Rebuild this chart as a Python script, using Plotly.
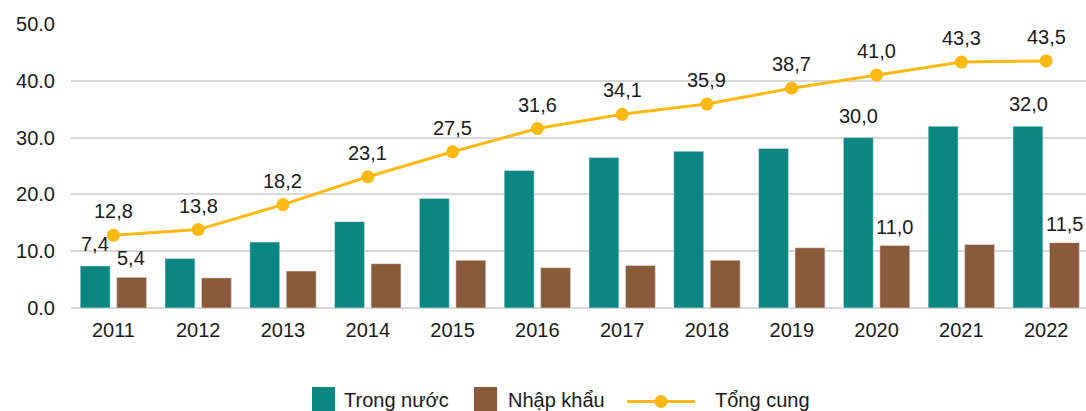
import plotly.graph_objects as go

years = ["2011", "2012", "2013", "2014", "2015", "2016", "2017", "2018", "2019", "2020", "2021", "2022"]
trong_nuoc = [7.4, 8.7, 11.6, 15.2, 19.3, 24.2, 26.5, 27.6, 28.1, 30.0, 32.0, 32.0]
nhap_khau = [5.4, 5.3, 6.5, 7.8, 8.4, 7.1, 7.5, 8.4, 10.6, 11.0, 11.2, 11.5]
tong_cung = [12.8, 13.8, 18.2, 23.1, 27.5, 31.6, 34.1, 35.9, 38.7, 41.0, 43.3, 43.5]
labeled_years = ["2011", "2020", "2022"]

C_TN = "#0B8682"
C_NK = "#8B5A3A"
C_TC = "#FDB913"
FONT = "Liberation Sans, Arial, sans-serif"
TXT = "#1a1a1a"
FS = 20

W, H = 1086, 411
ML, MR, MT, MB = 71, 0, 24, 103
PW, PH = W - ML - MR, H - MT - MB


def fmt(v):
    return f"{v:.1f}".replace(".", ",")


def px(x):
    return (x - ML) / PW


def py(y):
    return (H - MB - y) / PH


fig = go.Figure()
fig.add_trace(go.Bar(name="Trong nước", x=years, y=trong_nuoc, marker_color=C_TN,
                     showlegend=False))
fig.add_trace(go.Bar(name="Nhập khẩu", x=years, y=nhap_khau, marker_color=C_NK,
                     showlegend=False))
fig.add_trace(go.Scatter(name="Tổng cung", x=years, y=tong_cung, mode="lines+markers",
                         line=dict(color=C_TC, width=3), marker=dict(size=13, color=C_TC),
                         cliponaxis=False, showlegend=False))

annotations = []
# line labels (x given as category index)
for i, v in enumerate(tong_cung):
    annotations.append(dict(x=i, y=v, xref="x", yref="y", text=fmt(v), showarrow=False,
                            yanchor="middle", yshift=24, font=dict(size=FS, color=TXT)))
# bar labels
for i, (yr, v) in enumerate(zip(years, trong_nuoc)):
    if yr in labeled_years:
        annotations.append(dict(x=i, y=v, xref="x", yref="y", text=fmt(v), showarrow=False,
                                yanchor="middle", yshift=22, xshift=-18,
                                font=dict(size=FS, color=TXT)))
for i, (yr, v) in enumerate(zip(years, nhap_khau)):
    if yr in labeled_years:
        annotations.append(dict(x=i, y=v, xref="x", yref="y", text=fmt(v), showarrow=False,
                                yanchor="middle", yshift=19, xshift=18,
                                font=dict(size=FS, color=TXT)))

# manual legend
shapes = []
legend_items = [
    ("Trong nước", "bar", C_TN, 312, 342),
    ("Nhập khẩu", "bar", C_NK, 474, 506),
    ("Tổng cung", "line", C_TC, 627, 713),
]
LY = 400
for name, kind, col, x0, tx in legend_items:
    if kind == "bar":
        shapes.append(dict(type="rect", xref="paper", yref="paper", x0=px(x0), x1=px(x0 + 23),
                           y0=py(LY + 12), y1=py(LY - 13), fillcolor=col, line=dict(width=0)))
    else:
        shapes.append(dict(type="line", xref="paper", yref="paper", x0=px(x0), x1=px(x0 + 68),
                           y0=py(LY + 1.5), y1=py(LY + 1.5), line=dict(color=col, width=3)))
        shapes.append(dict(type="circle", xref="paper", yref="paper", x0=px(x0 + 27.5),
                           x1=px(x0 + 40.5), y0=py(LY + 8), y1=py(LY - 5),
                           fillcolor=col, line=dict(width=0)))
    annotations.append(dict(x=px(tx), y=py(LY), xref="paper", yref="paper", text=name,
                            showarrow=False, xanchor="left", yanchor="middle",
                            font=dict(size=FS, color=TXT)))

fig.update_layout(
    width=W, height=H,
    margin=dict(l=ML, r=MR, t=MT, b=MB, autoexpand=False),
    paper_bgcolor="white", plot_bgcolor="white",
    font=dict(family=FONT, size=FS, color=TXT),
    barmode="group", bargap=0.14, bargroupgap=0.18,
    showlegend=False,
    xaxis=dict(type="category", range=[-0.5, 11.47], showgrid=False, showline=False,
               ticks="", automargin=False, ticklabelstandoff=8,
               tickfont=dict(size=FS, color=TXT)),
    yaxis=dict(range=[0, 50], dtick=10, tickformat=".1f", showgrid=True, gridcolor="#D9D9D9",
               gridwidth=2, zeroline=True, zerolinecolor="#D9D9D9", zerolinewidth=2,
               showline=False, ticks="", automargin=False, ticklabelstandoff=15,
               tickfont=dict(size=FS, color=TXT)),
    shapes=shapes,
    annotations=annotations,
)

fig.write_html("out.html", config={"displayModeBar": False},
               post_script="document.body.style.margin='0px';document.body.style.overflow='hidden';")
